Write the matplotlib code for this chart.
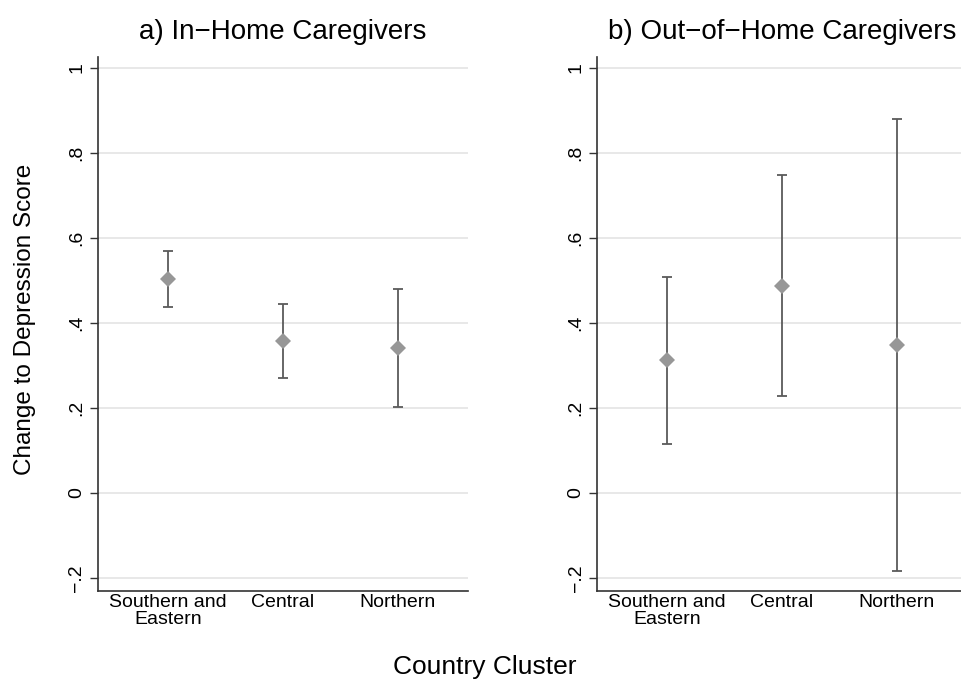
import numpy as np
import matplotlib
matplotlib.use('Agg')
import matplotlib.pyplot as plt

plt.rcParams['font.family'] = ['Liberation Sans', 'DejaVu Sans']

# data
categories = ['Southern and\nEastern', 'Central', 'Northern']
in_home_est = [0.503, 0.357, 0.341]
in_home_lo = [0.438, 0.270, 0.202]
in_home_hi = [0.569, 0.444, 0.480]
out_home_est = [0.312, 0.488, 0.348]
out_home_lo = [0.115, 0.227, -0.183]
out_home_hi = [0.509, 0.749, 0.881]
yticks = [-0.2, 0, 0.2, 0.4, 0.6, 0.8, 1.0]
ytick_labels = ['\u2212.2', '0', '.2', '.4', '.6', '.8', '1']
titles = ['a) In\u2212Home Caregivers', 'b) Out\u2212of\u2212Home Caregivers']

W, H = 961, 687
fig = plt.figure(figsize=(W / 100, H / 100), dpi=100)

# axes boxes in pixels (left, top, right, bottom)
boxes = [(98, 57, 468, 591), (597, 57, 967, 591)]
panels = [(in_home_est, in_home_lo, in_home_hi),
          (out_home_est, out_home_lo, out_home_hi)]

x = np.arange(1, len(categories) + 1)
for (l, t, r, b), (est, lo, hi), title in zip(boxes, panels, titles):
    ax = fig.add_axes([l / W, 1 - b / H, (r - l) / W, (b - t) / H])
    est = np.array(est)
    err = np.vstack([est - np.array(lo), np.array(hi) - est])
    ax.errorbar(x, est, yerr=err, fmt='none', ecolor='#5a5a5a',
                elinewidth=1.3, capsize=3.8, capthick=1.3, zorder=3)
    ax.plot(x, est, 'D', color='#979797', markersize=8.5,
            markeredgewidth=0, zorder=4)
    ax.set_xlim(0.39, 3.61)
    ax.set_ylim(-0.231, 1.026)
    ax.set_yticks(yticks)
    ax.set_yticklabels(ytick_labels, rotation=90, va='center', fontsize=14)
    ax.set_xticks(x)
    ax.set_xticklabels(categories, fontsize=14, linespacing=1.05)
    ax.tick_params(axis='x', length=0, pad=2)
    ax.tick_params(axis='y', length=6, width=1, color='#333333', pad=3)
    for yv in yticks:
        ax.axhline(yv, color='#e6e6e6', lw=1.3, zorder=1)
    for s in ['top', 'right']:
        ax.spines[s].set_visible(False)
    for s in ['left', 'bottom']:
        ax.spines[s].set_color('#333333')
        ax.spines[s].set_linewidth(1.2)
    ax.set_title(title, fontsize=20, pad=13)

fig.text(25 / W, 1 - 319 / H, 'Change to Depression Score', rotation=90,
         ha='center', va='center', fontsize=17.5)
fig.text(485 / W, 1 - 667 / H, 'Country Cluster', ha='center', va='center',
         fontsize=19)

fig.savefig('out.png', dpi=100)
